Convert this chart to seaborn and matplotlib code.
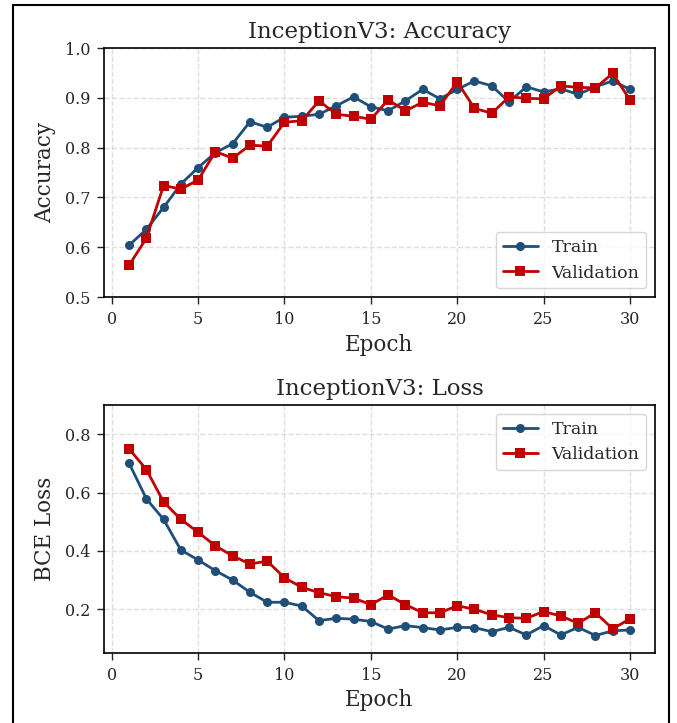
import numpy as np
import pandas as pd
import matplotlib
matplotlib.use('Agg')
import matplotlib.pyplot as plt
import seaborn as sns
from matplotlib.patches import Rectangle

epochs = list(range(1, 31))

train_acc = [0.604, 0.636, 0.680, 0.727, 0.760, 0.790, 0.808, 0.852, 0.841, 0.861,
             0.863, 0.867, 0.884, 0.902, 0.882, 0.874, 0.894, 0.917, 0.898, 0.917,
             0.934, 0.924, 0.892, 0.922, 0.912, 0.918, 0.907, 0.922, 0.934, 0.917]
val_acc = [0.564, 0.618, 0.724, 0.717, 0.735, 0.792, 0.779, 0.805, 0.803, 0.851,
           0.854, 0.894, 0.867, 0.863, 0.857, 0.896, 0.874, 0.891, 0.884, 0.932,
           0.879, 0.869, 0.902, 0.899, 0.898, 0.924, 0.921, 0.920, 0.949, 0.896]

train_loss = [0.701, 0.579, 0.508, 0.403, 0.369, 0.332, 0.300, 0.258, 0.224, 0.224,
              0.211, 0.161, 0.169, 0.166, 0.158, 0.132, 0.144, 0.137, 0.129, 0.138,
              0.137, 0.123, 0.138, 0.112, 0.144, 0.112, 0.138, 0.110, 0.126, 0.129]
val_loss = [0.750, 0.679, 0.568, 0.508, 0.464, 0.417, 0.383, 0.355, 0.365, 0.308,
            0.275, 0.257, 0.243, 0.238, 0.216, 0.249, 0.216, 0.188, 0.188, 0.212,
            0.200, 0.181, 0.171, 0.169, 0.192, 0.177, 0.152, 0.188, 0.133, 0.167]

BLUE = '#1f4e79'
RED = '#c00000'

sns.set_style('ticks')
plt.rcParams['font.family'] = ['DejaVu Serif']

fig = plt.figure(figsize=(6.77, 7.23), dpi=100)
ax1 = fig.add_axes([0.1536, 0.589, 0.8139, 0.3446])
ax2 = fig.add_axes([0.1536, 0.0968, 0.8139, 0.343])

# figure frame
fig.patches.append(Rectangle((0.019, -0.05), 0.969, 1.043, transform=fig.transFigure,
                             fill=False, edgecolor='black', linewidth=1.5))


def draw(ax, train, val, title, ylabel, legend_loc):
    sns.lineplot(x=epochs, y=train, ax=ax, color=BLUE, marker='o', markersize=6.5,
                 markeredgewidth=0, linewidth=2, label='Train')
    sns.lineplot(x=epochs, y=val, ax=ax, color=RED, marker='s', markersize=6.5,
                 markeredgewidth=0, linewidth=2, label='Validation')
    ax.set_title(title, fontsize=16.5, pad=7)
    ax.set_xlabel('Epoch', fontsize=15.5, labelpad=4)
    ax.set_ylabel(ylabel, fontsize=15.5, labelpad=6)
    ax.set_xticks([0, 5, 10, 15, 20, 25, 30])
    ax.tick_params(labelsize=11.5, direction='out', length=5, width=1, pad=5)
    ax.grid(True, linestyle='--', color='#c8c8c8', alpha=0.6, linewidth=1)
    for s in ax.spines.values():
        s.set_color('black')
        s.set_linewidth(1.2)
    ax.legend(loc=legend_loc, fontsize=12.5, framealpha=0.8)


draw(ax1, train_acc, val_acc, 'InceptionV3: Accuracy', 'Accuracy', 'lower right')
ax1.set_ylim(0.5, 1.0)

draw(ax2, train_loss, val_loss, 'InceptionV3: Loss', 'BCE Loss', 'upper right')
ax2.set_ylim(0.05, 0.9)
ax2.set_yticks([0.2, 0.4, 0.6, 0.8])

fig.savefig('out.png', dpi=100)
